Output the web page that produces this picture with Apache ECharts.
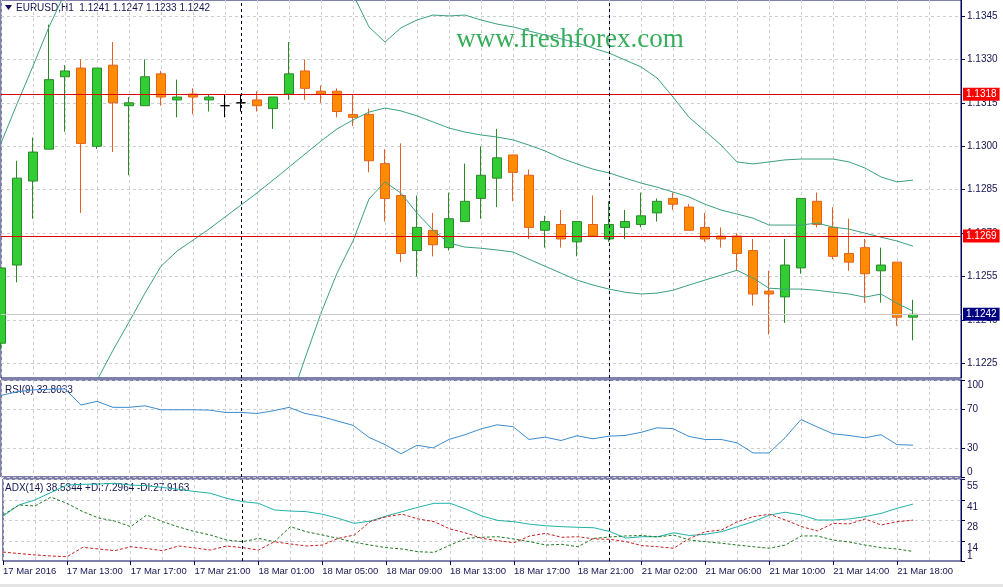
<!DOCTYPE html>
<html>
<head>
<meta charset="utf-8">
<script src="https://cdn.jsdelivr.net/npm/echarts@6/dist/echarts.min.js"></script>
<style>
  html, body { margin: 0; padding: 0; background: #fff; }
  #chart { width: 1003px; height: 587px; }
</style>
</head>
<body>
<div id="chart"></div>
<script>
// hourly bars, EURUSD H1
const hours = [
  '17 Mar 09:00', '17 Mar 10:00', '17 Mar 11:00', '17 Mar 12:00', '17 Mar 13:00', '17 Mar 14:00', '17 Mar 15:00',
  '17 Mar 16:00', '17 Mar 17:00', '17 Mar 18:00', '17 Mar 19:00', '17 Mar 20:00', '17 Mar 21:00', '17 Mar 22:00',
  '17 Mar 23:00', '18 Mar 00:00', '18 Mar 01:00', '18 Mar 02:00', '18 Mar 03:00', '18 Mar 04:00', '18 Mar 05:00',
  '18 Mar 06:00', '18 Mar 07:00', '18 Mar 08:00', '18 Mar 09:00', '18 Mar 10:00', '18 Mar 11:00', '18 Mar 12:00',
  '18 Mar 13:00', '18 Mar 14:00', '18 Mar 15:00', '18 Mar 16:00', '18 Mar 17:00', '18 Mar 18:00', '18 Mar 19:00',
  '18 Mar 20:00', '18 Mar 21:00', '18 Mar 22:00', '21 Mar 00:00', '21 Mar 01:00', '21 Mar 02:00', '21 Mar 03:00',
  '21 Mar 04:00', '21 Mar 05:00', '21 Mar 06:00', '21 Mar 07:00', '21 Mar 08:00', '21 Mar 09:00', '21 Mar 10:00',
  '21 Mar 11:00', '21 Mar 12:00', '21 Mar 13:00', '21 Mar 14:00', '21 Mar 15:00', '21 Mar 16:00', '21 Mar 17:00',
  '21 Mar 18:00', '21 Mar 19:00', '21 Mar 20:00', '21 Mar 21:00', '21 Mar 22:00'
];

const opens = [
  1.1232, 1.1259, 1.1288, 1.1299, 1.1324, 1.1327, 1.1300, 1.1328, 1.1314, 1.1314,
  1.1325, 1.1316, 1.1318, 1.1316, 1.1314, 1.1315, 1.1316, 1.1313, 1.1318, 1.1326,
  1.1319, 1.1319, 1.1311, 1.1311, 1.1294, 1.1283, 1.1264, 1.1271, 1.1265, 1.1274,
  1.1282, 1.1289, 1.1297, 1.1290, 1.1271, 1.1273, 1.1267, 1.1273, 1.1268, 1.1272,
  1.1273, 1.1277, 1.1282, 1.1279, 1.1272, 1.1269, 1.1269, 1.1264, 1.1250, 1.1248,
  1.1258, 1.1281, 1.1272, 1.1263, 1.1265, 1.1257, 1.1260, 1.1241
];
const highs = [
  1.1258, 1.1295, 1.1303, 1.1342, 1.1328, 1.1330, 1.1327, 1.1336, 1.1317, 1.1330,
  1.1326, 1.1323, 1.1320, 1.1318, 1.1318, 1.1318, 1.1319, 1.1317, 1.1336, 1.1330,
  1.1321, 1.1320, 1.1318, 1.1313, 1.1299, 1.1301, 1.1283, 1.1277, 1.1284, 1.1294,
  1.1300, 1.1306, 1.1297, 1.1292, 1.1276, 1.1278, 1.1274, 1.1283, 1.1281, 1.1278,
  1.1284, 1.1282, 1.1284, 1.1280, 1.1277, 1.1272, 1.1270, 1.1268, 1.1257, 1.1268,
  1.1282, 1.1284, 1.1279, 1.1275, 1.1268, 1.1265, 1.1260, 1.1247
];
const lows = [
  1.1230, 1.1253, 1.1275, 1.1299, 1.1305, 1.1277, 1.1299, 1.1298, 1.1290, 1.1314,
  1.1314, 1.1310, 1.1311, 1.1312, 1.1310, 1.1312, 1.1312, 1.1306, 1.1316, 1.1316,
  1.1315, 1.1310, 1.1307, 1.1291, 1.1274, 1.1260, 1.1255, 1.1262, 1.1264, 1.1274,
  1.1275, 1.1279, 1.1281, 1.1268, 1.1265, 1.1265, 1.1262, 1.1269, 1.1267, 1.1268,
  1.1272, 1.1274, 1.1278, 1.1271, 1.1267, 1.1265, 1.1257, 1.1245, 1.1235, 1.1239,
  1.1256, 1.1272, 1.1261, 1.1257, 1.1246, 1.1246, 1.1238, 1.1233
];
const closes = [
  1.1258, 1.1289, 1.1298, 1.1323, 1.1326, 1.1301, 1.1327, 1.1315, 1.1315, 1.1324,
  1.1317, 1.1317, 1.1317, 1.1317, 1.1314, 1.1315, 1.1314, 1.1317, 1.1325, 1.1320,
  1.1318, 1.1312, 1.1310, 1.1295, 1.1282, 1.1263, 1.1272, 1.1266, 1.1275, 1.1281,
  1.1290, 1.1296, 1.1291, 1.1272, 1.1274, 1.1268, 1.1274, 1.1269, 1.1273, 1.1274,
  1.1276, 1.1281, 1.1280, 1.1271, 1.1268, 1.1268, 1.1263, 1.1249, 1.1249, 1.1259,
  1.1282, 1.1273, 1.1262, 1.1260, 1.1256, 1.1259, 1.1241, 1.1242
];

// Bollinger bands (20, 2)
const bbUpper = [
  1.13011, 1.13146, 1.13277, 1.13412, 1.1353, 1.1363, 1.1371, 1.1378, 1.1383, 1.1387,
  1.1389, 1.1390, 1.1390, 1.1389, 1.1387, 1.1385, 1.1382, 1.1379, 1.1375, 1.1368,
  1.1361, 1.1356, 1.13525, 1.13412, 1.1336, 1.13409, 1.13436, 1.13453, 1.1345, 1.13453,
  1.13436, 1.13422, 1.13412, 1.13398, 1.13384, 1.13371, 1.13357, 1.13339, 1.13322, 1.13298,
  1.13274, 1.13236, 1.1317, 1.1310, 1.13053, 1.13004, 1.12946, 1.12939, 1.12946, 1.12953,
  1.12956, 1.12956, 1.12956, 1.12946, 1.12925, 1.12894, 1.12877, 1.12883
];
const bbMiddle = [
  1.1160, 1.1169, 1.1179, 1.1189, 1.1199, 1.1209, 1.12192, 1.12296, 1.12393, 1.12493,
  1.12586, 1.12638, 1.12676, 1.12714, 1.12756, 1.12797, 1.12839, 1.12883, 1.12928, 1.12973,
  1.13018, 1.1306, 1.13091, 1.13118, 1.13132, 1.13122, 1.13105, 1.13084, 1.13063, 1.13049,
  1.13039, 1.13032, 1.13022, 1.13004, 1.12984, 1.12959, 1.12939, 1.12921, 1.12908, 1.1289,
  1.12873, 1.12859, 1.12842, 1.12825, 1.1280, 1.1278, 1.12766, 1.12752, 1.12728, 1.12728,
  1.12728, 1.12735, 1.12721, 1.12714, 1.1270, 1.12686, 1.12673, 1.12655
];
const bbLower = [
  1.1019, 1.1023, 1.1030, 1.1037, 1.1045, 1.1055, 1.1067, 1.1081, 1.1096, 1.1112,
  1.1128, 1.1138, 1.1145, 1.1154, 1.1164, 1.1174, 1.1186, 1.1198, 1.12106, 1.12268,
  1.12424, 1.12562, 1.12673, 1.12818, 1.12877, 1.12838, 1.12769, 1.12711, 1.12666, 1.12652,
  1.12648, 1.12642, 1.12635, 1.1261, 1.12586, 1.12562, 1.12538, 1.12521, 1.12507, 1.12496,
  1.1249, 1.12493, 1.12503, 1.12521, 1.12538, 1.12555, 1.12572, 1.12545, 1.1251, 1.12507,
  1.12507, 1.12503, 1.12496, 1.1249, 1.12479, 1.1249, 1.12458, 1.12431
];

const rsi = [
  84.1, 87.8, 89.8, 90.4, 90.9, 74.2, 78.0, 71.8, 71.8, 73.4,
  69.3, 69.3, 69.3, 69.0, 66.6, 66.6, 65.5, 68.2, 71.8, 65.5,
  62.4, 57.8, 53.3, 40.8, 33.4, 24.0, 32.7, 30.0, 38.7, 43.6,
  49.6, 53.8, 51.9, 38.7, 41.1, 37.6, 42.5, 39.4, 42.1, 42.8,
  46.0, 50.7, 49.8, 41.8, 38.7, 38.7, 35.2, 24.8, 24.8, 40.4,
  59.2, 51.7, 44.6, 42.8, 40.4, 43.6, 33.4, 32.8
];
const adx = [
  30.6, 37.9, 41.2, 46.1, 51.0, 51.5, 51.7, 52.2, 51.0, 50.6,
  49.4, 48.2, 46.8, 45.6, 42.3, 40.1, 39.0, 34.6, 33.9, 33.5,
  31.8, 29.1, 25.8, 27.3, 30.6, 33.5, 36.4, 39.0, 39.0, 35.2,
  30.6, 27.7, 26.9, 25.2, 24.2, 23.6, 23.2, 22.9, 20.4, 16.1,
  17.0, 17.0, 19.6, 17.8, 18.6, 20.3, 23.6, 26.9, 31.3, 33.1,
  31.3, 28.0, 28.0, 28.7, 30.2, 32.4, 35.7, 38.5
];
const plusDI = [
  31.3, 37.9, 37.2, 43.1, 39.0, 33.5, 29.3, 27.3, 23.6, 31.3,
  26.9, 23.4, 20.4, 18.1, 14.8, 13.7, 15.9, 13.7, 23.6, 20.3,
  18.1, 15.9, 13.3, 11.5, 9.8, 8.9, 7.1, 6.7, 11.5, 15.9,
  16.6, 17.0, 15.5, 13.7, 11.5, 12.0, 10.4, 15.9, 16.8, 17.5,
  17.8, 16.8, 18.1, 14.8, 13.7, 12.7, 11.5, 10.4, 9.4, 11.5,
  17.5, 17.5, 14.8, 13.5, 11.5, 9.8, 8.9, 7.3
];
const minusDI = [
  6.9, 5.9, 5.0, 4.3, 3.8, 10.0, 8.9, 7.8, 10.4, 9.2,
  7.8, 10.9, 9.6, 8.2, 10.9, 9.8, 8.2, 13.7, 12.2, 10.9,
  11.5, 15.9, 18.1, 26.9, 30.2, 31.8, 28.7, 26.9, 22.1, 19.4,
  15.9, 14.4, 13.0, 17.5, 19.2, 16.6, 17.0, 15.5, 15.3, 13.8,
  11.2, 10.4, 9.4, 15.9, 20.3, 21.4, 26.9, 30.2, 31.8, 28.0,
  23.7, 20.8, 25.8, 25.4, 28.7, 24.7, 26.9, 27.9
];

const priceTicks = [1.1225, 1.1240, 1.1255, 1.1270, 1.1285, 1.1300, 1.1315, 1.1330, 1.1345];
const rsiTicks = [0, 30, 70, 100];
const adxTicks = [14, 28, 41, 55];
const adxMinTick = [1];
const levels = [1.1318, 1.1269];
const bid = 1.1242;
const daySeparators = ['18 Mar 00:00', '21 Mar 00:00'];

const FONT = '"Liberation Sans", Arial, sans-serif';
const NAVY = '#000058';
const TEXT = '#141452';
const GRID_LINE = { color: '#cdcdcd', type: [3, 3], width: 1 };

const chart = echarts.init(document.getElementById('chart'));

function xAxisFor(gridIndex, withLabels) {
  const every4 = (i) => i % 4 === 0 && i <= 56;
  return {
    type: 'category',
    gridIndex: gridIndex,
    data: hours,
    boundaryGap: false,
    axisLine: { show: false },
    axisTick: withLabels
      ? { show: true, interval: every4, length: 4, lineStyle: { color: NAVY } }
      : { show: false },
    axisLabel: withLabels
      ? {
          show: true, interval: every4, align: 'left', margin: 5, hideOverlap: false,
          color: TEXT, fontSize: 9.5, fontFamily: FONT,
          formatter: (v, i) => (i === 0 ? '17 Mar 2016' : v)
        }
      : { show: false },
    splitLine: { show: true, interval: (i) => i % 2 === 0, lineStyle: GRID_LINE }
  };
}

function yAxisFor(gridIndex, min, max, ticks, fmt, label) {
  return {
    type: 'value',
    gridIndex: gridIndex,
    position: 'right',
    min: min,
    max: max,
    axisLine: { show: true, lineStyle: { color: NAVY } },
    axisTick: { show: true, customValues: ticks, length: 4, lineStyle: { color: NAVY } },
    axisLabel: Object.assign({
      customValues: ticks, formatter: fmt, margin: 6, hideOverlap: false,
      showMinLabel: true, showMaxLabel: true,
      color: TEXT, fontSize: 10, fontFamily: FONT
    }, label || {}),
    splitLine: { show: true, lineStyle: GRID_LINE }
  };
}

function separatorLines() {
  return daySeparators.map(d => ({
    xAxis: d, lineStyle: { color: '#000030', type: [3, 3], width: 1 }, label: { show: false }
  }));
}

function priceLine(value, lineColor, bg) {
  return {
    yAxis: value,
    lineStyle: { color: lineColor, type: 'solid', width: 1 },
    label: {
      show: true, position: 'end', distance: 2, formatter: value.toFixed(4),
      backgroundColor: bg, color: '#fff', padding: [2, 3, 1, 3],
      fontSize: 10, fontFamily: FONT
    }
  };
}

const candleData = opens.map((o, i) => {
  const item = { value: [o, closes[i], lows[i], highs[i]] };
  if (o === closes[i]) {
    item.itemStyle = { color: '#000', color0: '#000', borderColor: '#000', borderColor0: '#000' };
  }
  return item;
});

const bandStyle = { color: '#3c9f7d', width: 1 };

// second axis on the ADX pane only carries the bottom "1" label
const adxMinAxis = yAxisFor(2, 1, 55, adxMinTick, v => String(v), { verticalAlign: 'bottom' });
adxMinAxis.splitLine = { show: false };
adxMinAxis.axisLine = { show: false };

chart.setOption({
  animation: false,
  backgroundColor: '#fff',
  grid: [
    { left: 1, right: 42, top: 0, height: 378, show: true, borderColor: NAVY, borderWidth: 1 },
    { left: 1, right: 42, top: 380, height: 97, show: true, borderColor: NAVY, borderWidth: 1 },
    { left: 1, right: 42, top: 479, height: 82, show: true, borderColor: NAVY, borderWidth: 1 }
  ],
  xAxis: [xAxisFor(0, false), xAxisFor(1, false), xAxisFor(2, true)],
  yAxis: [
    yAxisFor(0, 1.1220, 1.13505, priceTicks, v => v.toFixed(4)),
    yAxisFor(1, 0, 100, rsiTicks, v => String(v),
      { verticalAlign: 'middle', verticalAlignMinLabel: 'bottom', verticalAlignMaxLabel: 'top' }),
    yAxisFor(2, 1, 55, adxTicks, v => String(v), { verticalAlign: 'top', padding: [2, 0, 0, 0] }),
    adxMinAxis
  ],
  graphic: [
    { type: 'polygon', shape: { points: [[5, 5], [12, 5], [8.5, 10]] }, style: { fill: '#10105a' } },
    {
      type: 'text', x: 16, y: 8,
      style: { text: 'EURUSD,H1  1.1241 1.1247 1.1233 1.1242', fill: TEXT, font: '10px ' + FONT, verticalAlign: 'middle' }
    },
    {
      type: 'text', x: 5, y: 390,
      style: { text: 'RSI(9) 32.8033', fill: TEXT, font: '10px ' + FONT, verticalAlign: 'middle' }
    },
    {
      type: 'text', x: 5, y: 488,
      style: { text: 'ADX(14) 38.5344 +DI:7.2964 -DI:27.9163', fill: TEXT, font: '10px ' + FONT, verticalAlign: 'middle' }
    },
    {
      type: 'text', x: 570, y: 40, z: 1,
      style: {
        text: 'www.freshforex.com', fill: '#35ad5a',
        font: '27px "Liberation Serif", "Times New Roman", serif', align: 'center', verticalAlign: 'middle'
      }
    },
    { type: 'rect', shape: { x: 0, y: 584, width: 1003, height: 3 }, style: { fill: '#e4e4e4' } }
  ],
  series: [
    {
      name: 'EURUSD', type: 'candlestick', xAxisIndex: 0, yAxisIndex: 0,
      data: candleData, barWidth: 9,
      itemStyle: {
        color: '#32cd32', color0: '#ff8c00',
        borderColor: '#2a8a2a', borderColor0: '#e4601c', borderWidth: 1
      }
    },
    {
      name: 'BB upper', type: 'line', xAxisIndex: 0, yAxisIndex: 0, data: bbUpper, symbol: 'none', lineStyle: bandStyle,
      markLine: {
        silent: true, symbol: 'none', animation: false, precision: 4,
        data: [
          priceLine(levels[0], '#e00000', '#ff0000'),
          priceLine(levels[1], '#e00000', '#ff0000'),
          priceLine(bid, '#c8c8c8', '#000080')
        ].concat(separatorLines())
      }
    },
    { name: 'BB middle', type: 'line', xAxisIndex: 0, yAxisIndex: 0, data: bbMiddle, symbol: 'none', lineStyle: bandStyle },
    { name: 'BB lower', type: 'line', xAxisIndex: 0, yAxisIndex: 0, data: bbLower, symbol: 'none', lineStyle: bandStyle },
    {
      name: 'RSI(9)', type: 'line', xAxisIndex: 1, yAxisIndex: 1, data: rsi, symbol: 'none',
      lineStyle: { color: '#3d8ccc', width: 1 },
      markLine: { silent: true, symbol: 'none', animation: false, data: separatorLines() }
    },
    {
      name: 'ADX(14)', type: 'line', xAxisIndex: 2, yAxisIndex: 2, data: adx, symbol: 'none',
      lineStyle: { color: '#20b2aa', width: 1 },
      markLine: { silent: true, symbol: 'none', animation: false, data: separatorLines() }
    },
    {
      name: '+DI', type: 'line', xAxisIndex: 2, yAxisIndex: 2, data: plusDI, symbol: 'none',
      lineStyle: { color: '#1e7a1e', width: 1, type: [3, 2] }
    },
    {
      name: '-DI', type: 'line', xAxisIndex: 2, yAxisIndex: 2, data: minusDI, symbol: 'none',
      lineStyle: { color: '#c81e1e', width: 1, type: [3, 2] }
    }
  ]
});
</script>
</body>
</html>
